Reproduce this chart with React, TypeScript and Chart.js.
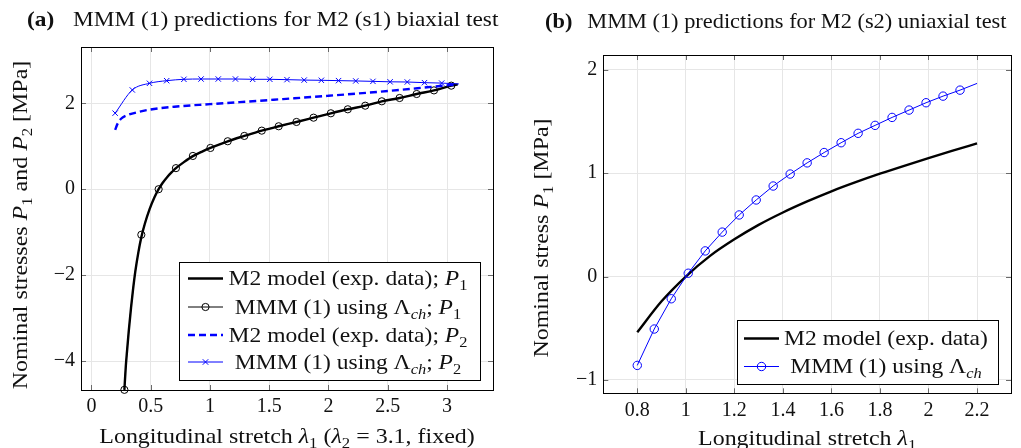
import React, { useEffect, useRef } from 'react';
import { Chart, registerables } from 'chart.js';
Chart.register(...registerables);

// ---------------- Panel (a): biaxial test ----------------
const leftXTicks = [0, 0.5, 1, 1.5, 2, 2.5, 3];
const leftYTicks = [-4, -2, 0, 2];

// M2 model (exp. data); P1
const m2P1X = [0.278, 0.29, 0.3, 0.315, 0.334, 0.35, 0.37, 0.396, 0.421, 0.45, 0.49, 0.53, 0.567, 0.6, 0.64, 0.68, 0.713, 0.78, 0.856, 0.93, 1.004, 1.15, 1.29, 1.437, 1.58, 1.73, 1.874, 2.02, 2.163, 2.31, 2.45, 2.6, 2.744, 2.89, 3.036, 3.09];
const m2P1Y = [-4.67, -4.12, -3.78, -3.3, -2.76, -2.36, -1.92, -1.47, -1.12, -0.81, -0.47, -0.2, 0.0, 0.143, 0.286, 0.402, 0.49, 0.63, 0.77, 0.87, 0.96, 1.116, 1.24, 1.363, 1.465, 1.565, 1.665, 1.767, 1.86, 1.944, 2.046, 2.123, 2.216, 2.3, 2.41, 2.44];

// MMM (1) using Lambda_ch; P1 : thin path and circle marks
const mmmP1PathX = [0.278, 0.29, 0.3, 0.315, 0.334, 0.35, 0.37, 0.396, 0.421, 0.45, 0.49, 0.53, 0.567, 0.64, 0.713, 0.78, 0.856, 1.004, 1.15, 1.29, 1.437, 1.58, 1.73, 1.874, 2.02, 2.163, 2.31, 2.45, 2.6, 2.744, 2.89, 3.036, 3.09];
const mmmP1PathY = [-4.67, -4.12, -3.78, -3.3, -2.76, -2.36, -1.92, -1.47, -1.1, -0.8, -0.47, -0.2, 0.0, 0.286, 0.49, 0.63, 0.774, 0.96, 1.116, 1.24, 1.363, 1.465, 1.565, 1.665, 1.767, 1.86, 1.944, 2.046, 2.123, 2.216, 2.3, 2.41, 2.44];
const mmmP1MarkX = [0.278, 0.421, 0.567, 0.713, 0.856, 1.004, 1.15, 1.29, 1.437, 1.58, 1.73, 1.874, 2.02, 2.163, 2.31, 2.45, 2.6, 2.744, 2.89, 3.036];
const mmmP1MarkY = [-4.67, -1.06, 0.0, 0.49, 0.774, 0.96, 1.116, 1.24, 1.363, 1.465, 1.565, 1.665, 1.767, 1.86, 1.944, 2.046, 2.123, 2.216, 2.3, 2.41];

// M2 model (exp. data); P2
const m2P2X = [0.2, 0.22, 0.25, 0.3, 0.4, 0.5, 0.7, 1.0, 1.5, 2.0, 2.5, 2.75, 2.9, 3.09];
const m2P2Y = [1.38, 1.52, 1.64, 1.72, 1.8, 1.855, 1.92, 1.98, 2.075, 2.175, 2.285, 2.35, 2.39, 2.44];

// MMM (1) using Lambda_ch; P2
const mmmP2X = [0.2, 0.345, 0.49, 0.635, 0.78, 0.925, 1.07, 1.215, 1.36, 1.505, 1.65, 1.795, 1.94, 2.085, 2.23, 2.375, 2.52, 2.665, 2.81, 2.955, 3.1];
const mmmP2Y = [1.77, 2.31, 2.465, 2.526, 2.558, 2.565, 2.565, 2.565, 2.558, 2.558, 2.55, 2.54, 2.535, 2.527, 2.52, 2.51, 2.5, 2.495, 2.48, 2.47, 2.45];

// ---------------- Panel (b): uniaxial test ----------------
const rightXTicks = [0.8, 1, 1.2, 1.4, 1.6, 1.8, 2, 2.2];
const rightYTicks = [-1, 0, 1, 2];

const m2UX = [0.8, 0.9, 1.0, 1.1, 1.2, 1.3, 1.4, 1.5, 1.6, 1.7, 1.8, 1.9, 2.0, 2.1, 2.2];
const m2UY = [-0.54, -0.24, 0.0, 0.2, 0.36, 0.5, 0.62, 0.727, 0.825, 0.913, 0.995, 1.072, 1.146, 1.218, 1.289];

const mmmUX = [0.8, 0.87, 0.94, 1.01, 1.08, 1.15, 1.22, 1.29, 1.36, 1.43, 1.5, 1.57, 1.64, 1.71, 1.78, 1.85, 1.92, 1.99, 2.06, 2.13, 2.2];
const mmmUY = [-0.86, -0.508, -0.215, 0.032, 0.248, 0.43, 0.596, 0.741, 0.876, 0.992, 1.1, 1.2, 1.295, 1.386, 1.463, 1.54, 1.611, 1.682, 1.746, 1.804, 1.869];

// ---------------- rendering helpers ----------------
const FAMILY = '"Liberation Serif", "Times New Roman", serif';
const BLUE = '#0000ff';
const TEXT = '#111';

type Seg = { t: string; i?: boolean; b?: boolean; s?: boolean; gap?: number };

const pts = (xs: number[], ys: number[]) => xs.map((x, k) => ({ x, y: ys[k] }));

function segFont(seg: Seg, fs: number) {
  const size = seg.s ? fs * 0.7 : fs;
  return `${seg.i ? 'italic ' : ''}${seg.b ? 'bold ' : ''}${size}px ${FAMILY}`;
}
function measureRich(ctx: CanvasRenderingContext2D, segs: Seg[], fs: number) {
  let w = 0;
  for (const s of segs) {
    ctx.font = segFont(s, fs);
    w += ctx.measureText(s.t).width + (s.gap || 0);
  }
  return w;
}
function drawRich(ctx: CanvasRenderingContext2D, segs: Seg[], x: number, y: number, fs: number, align: 'left' | 'center' | 'right', k: number) {
  const w = measureRich(ctx, segs, fs) * k;
  const start = align === 'center' ? x - w / 2 : align === 'right' ? x - w : x;
  ctx.save();
  ctx.translate(start, y);
  ctx.scale(k, 1);
  ctx.textBaseline = 'alphabetic';
  ctx.textAlign = 'left';
  ctx.fillStyle = TEXT;
  let cx = 0;
  for (const s of segs) {
    ctx.font = segFont(s, fs);
    ctx.fillText(s.t, cx, s.s ? fs * 0.22 : 0);
    cx += ctx.measureText(s.t).width + (s.gap || 0);
  }
  ctx.restore();
}

type LegendItem = { segs: Seg[]; color: string; width: number; dash?: number[]; marker?: 'circle' | 'cross'; r?: number };

type Decor = {
  title: Seg[]; titleX: number; titleY: number; titleFs: number; titleK: number;
  xTitle: Seg[]; xTitleY: number;
  yTitle: Seg[]; yTitleX: number; yTitleCY: number;
  axisFs: number;
  legend: { x: number; y: number; w: number; h: number; rowY: number[]; lineX0: number; lineX1: number; textCX: number; fs: number; items: LegendItem[] };
};

const K_AXIS = 1.14;
const K_LEGEND = 1.12;

function drawMarker(ctx: CanvasRenderingContext2D, kind: 'circle' | 'cross', x: number, y: number, r: number, color: string) {
  ctx.save();
  ctx.strokeStyle = color;
  ctx.lineWidth = 1;
  ctx.setLineDash([]);
  ctx.beginPath();
  if (kind === 'circle') {
    ctx.arc(x, y, r, 0, Math.PI * 2);
  } else {
    const d = r * 0.72;
    ctx.moveTo(x - d, y - d); ctx.lineTo(x + d, y + d);
    ctx.moveTo(x - d, y + d); ctx.lineTo(x + d, y - d);
  }
  ctx.stroke();
  ctx.restore();
}

function decorPlugin(cfg: Decor) {
  return {
    id: 'decor',
    afterDraw(chart: any) {
      const ctx: CanvasRenderingContext2D = chart.ctx;
      const a = chart.chartArea;
      const xs = chart.scales.x;
      const ys = chart.scales.y;
      ctx.save();
      // inner tick marks on all four sides
      ctx.strokeStyle = '#6a6a6a';
      ctx.lineWidth = 1;
      ctx.beginPath();
      const TL = 5;
      for (const t of xs.ticks) {
        const px = Math.round(xs.getPixelForValue(t.value)) + 0.5;
        ctx.moveTo(px, a.bottom); ctx.lineTo(px, a.bottom - TL);
        ctx.moveTo(px, a.top); ctx.lineTo(px, a.top + TL);
      }
      for (const t of ys.ticks) {
        const py = Math.round(ys.getPixelForValue(t.value)) + 0.5;
        ctx.moveTo(a.left, py); ctx.lineTo(a.left + TL, py);
        ctx.moveTo(a.right, py); ctx.lineTo(a.right - TL, py);
      }
      ctx.stroke();
      // axis box
      ctx.strokeStyle = '#000';
      ctx.lineWidth = 1;
      ctx.strokeRect(Math.round(a.left) + 0.5, Math.round(a.top) + 0.5, Math.round(a.right - a.left), Math.round(a.bottom - a.top));

      // legend
      const L = cfg.legend;
      ctx.fillStyle = '#fff';
      ctx.fillRect(L.x, L.y, L.w, L.h);
      ctx.strokeStyle = '#000';
      ctx.strokeRect(L.x + 0.5, L.y + 0.5, L.w, L.h);
      L.items.forEach((it, k) => {
        const ry = L.rowY[k];
        ctx.save();
        ctx.strokeStyle = it.color;
        ctx.lineWidth = it.width;
        ctx.setLineDash(it.dash || []);
        ctx.beginPath();
        ctx.moveTo(L.lineX0, ry);
        ctx.lineTo(L.lineX1, ry);
        ctx.stroke();
        ctx.restore();
        if (it.marker) drawMarker(ctx, it.marker, (L.lineX0 + L.lineX1) / 2, ry, it.r || 3.5, it.color);
        drawRich(ctx, it.segs, L.textCX, ry + L.fs * 0.33, L.fs, 'center', K_LEGEND);
      });

      // titles
      drawRich(ctx, cfg.title, cfg.titleX, cfg.titleY, cfg.titleFs, 'left', cfg.titleK);
      drawRich(ctx, cfg.xTitle, (a.left + a.right) / 2, cfg.xTitleY, cfg.axisFs, 'center', K_AXIS);
      ctx.save();
      ctx.translate(cfg.yTitleX, cfg.yTitleCY);
      ctx.rotate(-Math.PI / 2);
      drawRich(ctx, cfg.yTitle, 0, 0, cfg.axisFs, 'center', K_AXIS);
      ctx.restore();
      ctx.restore();
    },
  };
}

const fmt = (v: number) => String(v).replace('-', '\u2212');

function axis(min: number, max: number, ticks: number[], size: number, isX: boolean) {
  return {
    type: 'linear',
    min,
    max,
    afterBuildTicks: (s: any) => { s.ticks = ticks.map((v) => ({ value: v })); },
    afterFit: (s: any) => { if (isX) s.height = size; else s.width = size; },
    grid: { color: '#e6e6e6', drawTicks: false, lineWidth: 1 },
    border: { display: false },
    ticks: {
      padding: isX ? 5 : 6,
      color: TEXT,
      font: { family: FAMILY, size: 20 },
      callback: (v: number) => fmt(v),
      maxRotation: 0,
      autoSkip: false,
    },
  };
}

// ---------------- chart specs ----------------
const P = (n: string): Seg[] => [{ t: 'P', i: true }, { t: n, s: true }];
const LCH: Seg[] = [{ t: '\u039B' }, { t: 'ch', i: true, s: true }];

function leftConfig(): any {
  const decor: Decor = {
    title: [{ t: '(a)', b: true, gap: 17 }, { t: 'MMM (1) predictions for M2 (s1) biaxial test' }],
    titleX: 27, titleY: 26, titleFs: 21, titleK: 1.11,
    xTitle: [{ t: 'Longitudinal stretch ' }, { t: '\u03BB', i: true }, { t: '1', s: true }, { t: ' (' }, { t: '\u03BB', i: true }, { t: '2', s: true }, { t: ' = 3.1, fixed)' }],
    xTitleY: 443,
    yTitle: [{ t: 'Nominal stresses ' }, ...P('1'), { t: ' and ' }, ...P('2'), { t: ' [MPa]' }],
    yTitleX: 27, yTitleCY: 225,
    axisFs: 21,
    legend: {
      x: 179, y: 262, w: 301, h: 118,
      rowY: [278.5, 307, 335, 362],
      lineX0: 188, lineX1: 223, textCX: 348, fs: 21,
      items: [
        { segs: [{ t: 'M2 model (exp. data); ' }, ...P('1')], color: '#000', width: 2.4 },
        { segs: [{ t: 'MMM (1) using ' }, ...LCH, { t: '; ' }, ...P('1')], color: '#000', width: 1, marker: 'circle', r: 3.6 },
        { segs: [{ t: 'M2 model (exp. data); ' }, ...P('2')], color: BLUE, width: 2.4, dash: [7, 4] },
        { segs: [{ t: 'MMM (1) using ' }, ...LCH, { t: '; ' }, ...P('2')], color: BLUE, width: 1, marker: 'cross', r: 3.8 },
      ],
    },
  };
  return {
    type: 'line',
    data: {
      datasets: [
        { data: pts(mmmP2X, mmmP2Y), borderColor: BLUE, borderWidth: 1, cubicInterpolationMode: 'monotone', pointStyle: 'crossRot', pointRadius: (c: any) => (c.dataIndex === mmmP2X.length - 1 ? 0 : 3.8), pointBorderColor: BLUE, pointBorderWidth: 1, clip: false },
        { data: pts(m2P2X, m2P2Y), borderColor: BLUE, borderWidth: 2.4, borderDash: [7, 4], cubicInterpolationMode: 'monotone', pointRadius: 0, clip: false },
        { data: pts(mmmP1MarkX, mmmP1MarkY), showLine: false, pointStyle: 'circle', pointRadius: 3.6, pointBorderColor: '#000', pointBackgroundColor: 'rgba(0,0,0,0)', pointBorderWidth: 1, clip: false },
        { data: pts(mmmP1PathX, mmmP1PathY), borderColor: '#000', borderWidth: 1, cubicInterpolationMode: 'monotone', pointRadius: 0, clip: false },
        { data: pts(m2P1X, m2P1Y), borderColor: '#000', borderWidth: 2.4, cubicInterpolationMode: 'monotone', pointRadius: 0, clip: false },
      ],
    },
    options: {
      animation: false,
      responsive: false,
      events: [],
      layout: { padding: { left: 0, right: 22, top: 47, bottom: 0 } },
      plugins: { legend: { display: false }, title: { display: false }, tooltip: { enabled: false } },
      scales: {
        x: axis(-0.088, 3.388, leftXTicks, 58, true),
        y: axis(-4.674, 3.31, leftYTicks, 81, false),
      },
    },
    plugins: [decorPlugin(decor)],
  };
}

function rightConfig(): any {
  const decor: Decor = {
    title: [{ t: '(b)', b: true, gap: 14 }, { t: 'MMM (1) predictions for M2 (s2) uniaxial test' }],
    titleX: 30, titleY: 27.5, titleFs: 21, titleK: 1.065,
    xTitle: [{ t: 'Longitudinal stretch ' }, { t: '\u03BB', i: true }, { t: '1', s: true }],
    xTitleY: 445,
    yTitle: [{ t: 'Nominal stress ' }, ...P('1'), { t: ' [MPa]' }],
    yTitleX: 33, yTitleCY: 238,
    axisFs: 21,
    legend: {
      x: 222, y: 320, w: 261, h: 64,
      rowY: [338.5, 366.5],
      lineX0: 229, lineX1: 264, textCX: 371, fs: 21,
      items: [
        { segs: [{ t: 'M2 model (exp. data)' }], color: '#000', width: 2.4 },
        { segs: [{ t: 'MMM (1) using ' }, ...LCH], color: BLUE, width: 1, marker: 'circle', r: 4.2 },
      ],
    },
  };
  return {
    type: 'line',
    data: {
      datasets: [
        { data: pts(mmmUX, mmmUY), borderColor: BLUE, borderWidth: 1, tension: 0, pointStyle: 'circle', pointRadius: (c: any) => (c.dataIndex === mmmUX.length - 1 ? 0 : 4.2), pointBorderColor: BLUE, pointBackgroundColor: 'rgba(0,0,0,0)', pointBorderWidth: 1, clip: false },
        { data: pts(m2UX, m2UY), borderColor: '#000', borderWidth: 2.4, cubicInterpolationMode: 'monotone', pointRadius: 0, clip: false },
      ],
    },
    options: {
      animation: false,
      responsive: false,
      events: [],
      layout: { padding: { left: 0, right: 10, top: 55, bottom: 0 } },
      plugins: { legend: { display: false }, title: { display: false }, tooltip: { enabled: false } },
      scales: {
        x: axis(0.66, 2.34, rightXTicks, 54.7, true),
        y: axis(-1.13, 2.144, rightYTicks, 88.3, false),
      },
    },
    plugins: [decorPlugin(decor)],
  };
}

function Panel({ left, width, make }: { left: number; width: number; make: () => any }) {
  const ref = useRef<HTMLCanvasElement | null>(null);
  useEffect(() => {
    if (!ref.current) return;
    const ch = new Chart(ref.current, make());
    return () => ch.destroy();
  }, []);
  return <canvas ref={ref} width={width} height={448} style={{ position: 'absolute', left, top: 0, width, height: 448, display: 'block' }} />;
}

export default function App() {
  return (
    <div style={{ position: 'absolute', left: 0, top: 0, width: 1021, height: 448, background: '#fff', overflow: 'hidden' }}>
      <Panel left={0} width={515} make={leftConfig} />
      <Panel left={515} width={506} make={rightConfig} />
    </div>
  );
}
